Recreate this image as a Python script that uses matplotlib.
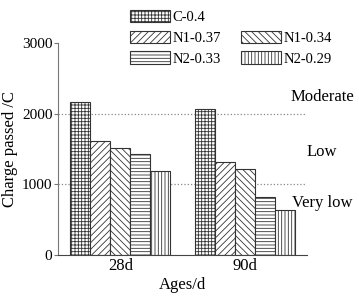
import numpy as np
import matplotlib
matplotlib.use('Agg')
import matplotlib.pyplot as plt
from matplotlib.patches import Rectangle

plt.rcParams['font.family'] = ['Liberation Serif', 'DejaVu Serif']
plt.rcParams['hatch.linewidth'] = 0.6
plt.rcParams['hatch.color'] = '#555555'

ages = ['28d', '90d']
mixes = ['C-0.4', 'N1-0.37', 'N1-0.34', 'N2-0.33', 'N2-0.29']
charge_28d = [2165, 1610, 1520, 1430, 1190]
charge_90d = [2070, 1310, 1215, 825, 640]
hatches = ['+++++', '/////', '\\\\\\\\\\', '-----', '|||||']

fig = plt.figure(figsize=(3.59, 2.96), dpi=100)
ax = fig.add_axes([0.1616, 0.1385, 0.6935, 0.7165])

x = np.arange(len(ages))
w = 0.16
values = np.array([charge_28d, charge_90d])
bars = []
for i, m in enumerate(mixes):
    b = ax.bar(x + (i - 2) * w, values[:, i], w, facecolor='white',
               edgecolor='#333333', linewidth=0.8, hatch=hatches[i], label=m)
    bars.append(b)

for yv in [1000, 2000]:
    ax.axhline(yv, color='#888888', linestyle=':', linewidth=0.9, zorder=0)

ax.set_xlim(-0.5, 1.5)
ax.set_ylim(0, 3000)
ax.set_yticks([0, 1000, 2000, 3000])
ax.set_xticks(x)
ax.set_xticklabels(ages, fontsize=12)
ax.tick_params(axis='y', labelsize=11, length=3, color='#777777', pad=1)
ax.tick_params(axis='x', length=0, pad=2)
ax.spines['top'].set_visible(False)
ax.spines['right'].set_visible(False)
ax.spines['left'].set_color('#777777')
ax.spines['bottom'].set_color('#444444')
ax.set_ylabel('Charge passed /C', fontsize=12, labelpad=3)
ax.set_xlabel('Ages/d', fontsize=12, labelpad=2)

ax.text(1.62, 2230, 'Moderate', fontsize=12, ha='center', va='center', clip_on=False)
ax.text(1.62, 1460, 'Low', fontsize=12, ha='center', va='center', clip_on=False)
ax.text(1.62, 740, 'Very low', fontsize=12, ha='center', va='center', clip_on=False)

blank = Rectangle((0, 0), 1, 1, visible=False)
handles = [bars[0], bars[1], bars[3], blank, bars[2], bars[4]]
labels = [mixes[0], mixes[1], mixes[3], '', mixes[2], mixes[4]]
fig.legend(handles, labels, ncol=2, loc='upper left',
           bbox_to_anchor=(121 / 359, 1 - 1 / 296), frameon=False,
           fontsize=10.5, handlelength=2.75, handleheight=0.95,
           handletextpad=0.2, columnspacing=1.35, labelspacing=0.45,
           borderpad=0.1)

fig.savefig('out.png', dpi=100)
